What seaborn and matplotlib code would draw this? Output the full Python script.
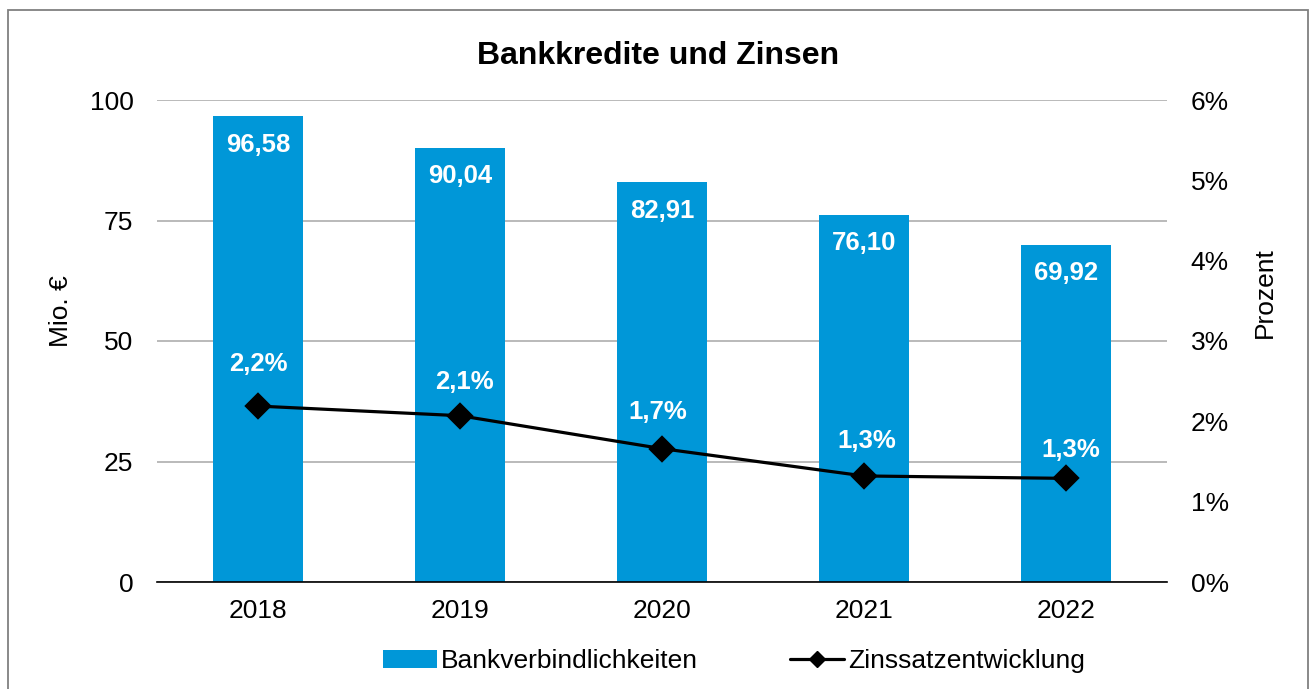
import numpy as np
import pandas as pd
import matplotlib
matplotlib.use("Agg")
import matplotlib.pyplot as plt
from matplotlib.patches import Patch, Rectangle
from matplotlib.lines import Line2D
import seaborn as sns

# ---- data ----
years = ["2018", "2019", "2020", "2021", "2022"]
credits = [96.58, 90.04, 82.91, 76.10, 69.92]
rates = [2.19, 2.07, 1.66, 1.32, 1.29]
left_ticks = [0, 25, 50, 75, 100]
right_ticks = [0, 1, 2, 3, 4, 5, 6]
series_names = ["Bankverbindlichkeiten", "Zinssatzentwicklung"]
title = "Bankkredite und Zinsen"
left_label = "Mio. €"
right_label = "Prozent"

# ---- style ----
BLUE = "#0097d8"
rate_label_dy = [42, 34, 37, 35, 28]  # px above markers
rate_label_dx = [0, 4, -4, 3, 5]

sns.set_style("white")
plt.rcParams["font.family"] = ["Liberation Sans", "DejaVu Sans"]
plt.rcParams["text.color"] = "black"
plt.rcParams["axes.labelcolor"] = "black"
plt.rcParams["xtick.color"] = "black"
plt.rcParams["ytick.color"] = "black"

W, H = 1311, 689
fig = plt.figure(figsize=(W / 100, H / 100), dpi=100)
ax = fig.add_axes([157 / W, 1 - 582 / H, 1010 / W, 482 / H])

df = pd.DataFrame({"Jahr": years, "Kredite": credits, "Zins": rates})
sns.barplot(data=df, x="Jahr", y="Kredite", color=BLUE, width=0.45,
            saturation=1, linewidth=0, ax=ax)
ax.set_ylim(0, 100)
ax.set_yticks(left_ticks)
ax.set_xlabel("")
ax.set_ylabel("")
ax.set_axisbelow(True)
ax.yaxis.grid(True, color="#b4b4b4", linewidth=1.3)
ax.xaxis.grid(False)
for s in ["left", "right", "top"]:
    ax.spines[s].set_visible(False)
ax.spines["bottom"].set_color("black")
ax.spines["bottom"].set_linewidth(1.2)

ax.bar_label(ax.containers[0],
             labels=[f"{v:.2f}".replace(".", ",") for v in credits],
             padding=-29, color="white", fontsize=18.5, fontweight="bold")

ax2 = ax.twinx()
sns.pointplot(data=df, x="Jahr", y="Zins", color="black", markers="D",
              markersize=12, linewidth=2.3, errorbar=None, ax=ax2)
ax2.set_ylim(0, 6)
ax2.set_yticks(right_ticks)
ax2.set_yticklabels([f"{t}%" for t in right_ticks])
ax2.set_xlabel("")
ax2.set_ylabel("")
ax2.grid(False)
for s in ax2.spines.values():
    s.set_visible(False)

for i, v in enumerate(rates):
    ax2.annotate(f"{v:.1f}%".replace(".", ","), (i, v),
                 xytext=(rate_label_dx[i] * 0.72, rate_label_dy[i] * 0.72),
                 textcoords="offset points", ha="center", va="center",
                 color="white", fontsize=18.5, fontweight="bold")

ax.set_xlim(-0.5, len(years) - 0.5)
ax.set_xticks(range(len(years)))
ax.set_xticklabels(years)
ax.set_xticks(np.arange(-0.5, len(years), 1), minor=True)
ax.tick_params(axis="x", which="major", length=0, pad=12, labelsize=19,
               labelcolor="black")
ax.tick_params(axis="x", which="minor", length=6, width=1.1, color="black")
ax.tick_params(axis="y", length=0, pad=17, labelsize=19, labelcolor="black")
ax2.tick_params(axis="y", length=0, pad=17, labelsize=19, labelcolor="black")

fig.text(658 / W, 1 - 56 / H, title, ha="center", va="center",
         fontsize=23, fontweight="bold", color="black")
fig.text(61 / W, 1 - 311 / H, left_label, ha="center", va="center",
         rotation=90, fontsize=19, color="black")
fig.text(1265 / W, 1 - 293 / H, right_label, ha="center", va="center",
         rotation=90, fontsize=19, color="black")

handles = [Patch(facecolor=BLUE, edgecolor="none"),
           Line2D([], [], color="black", lw=2.3, marker="D", markersize=8)]
leg = fig.legend(handles, series_names, loc="center",
                 bbox_to_anchor=(734 / W, 1 - 661 / H), ncol=2, frameon=False,
                 fontsize=19, handlelength=2.05, handletextpad=0.15,
                 columnspacing=3.5, borderpad=0, borderaxespad=0)
for t in leg.get_texts():
    t.set_color("black")

fig.patches.append(Rectangle((8 / W, -0.05), 1300 / W, 679 / H + 0.05,
                             transform=fig.transFigure, fill=False,
                             edgecolor="#808080", linewidth=1.3))

fig.savefig("out.png", dpi=100, facecolor="white")
